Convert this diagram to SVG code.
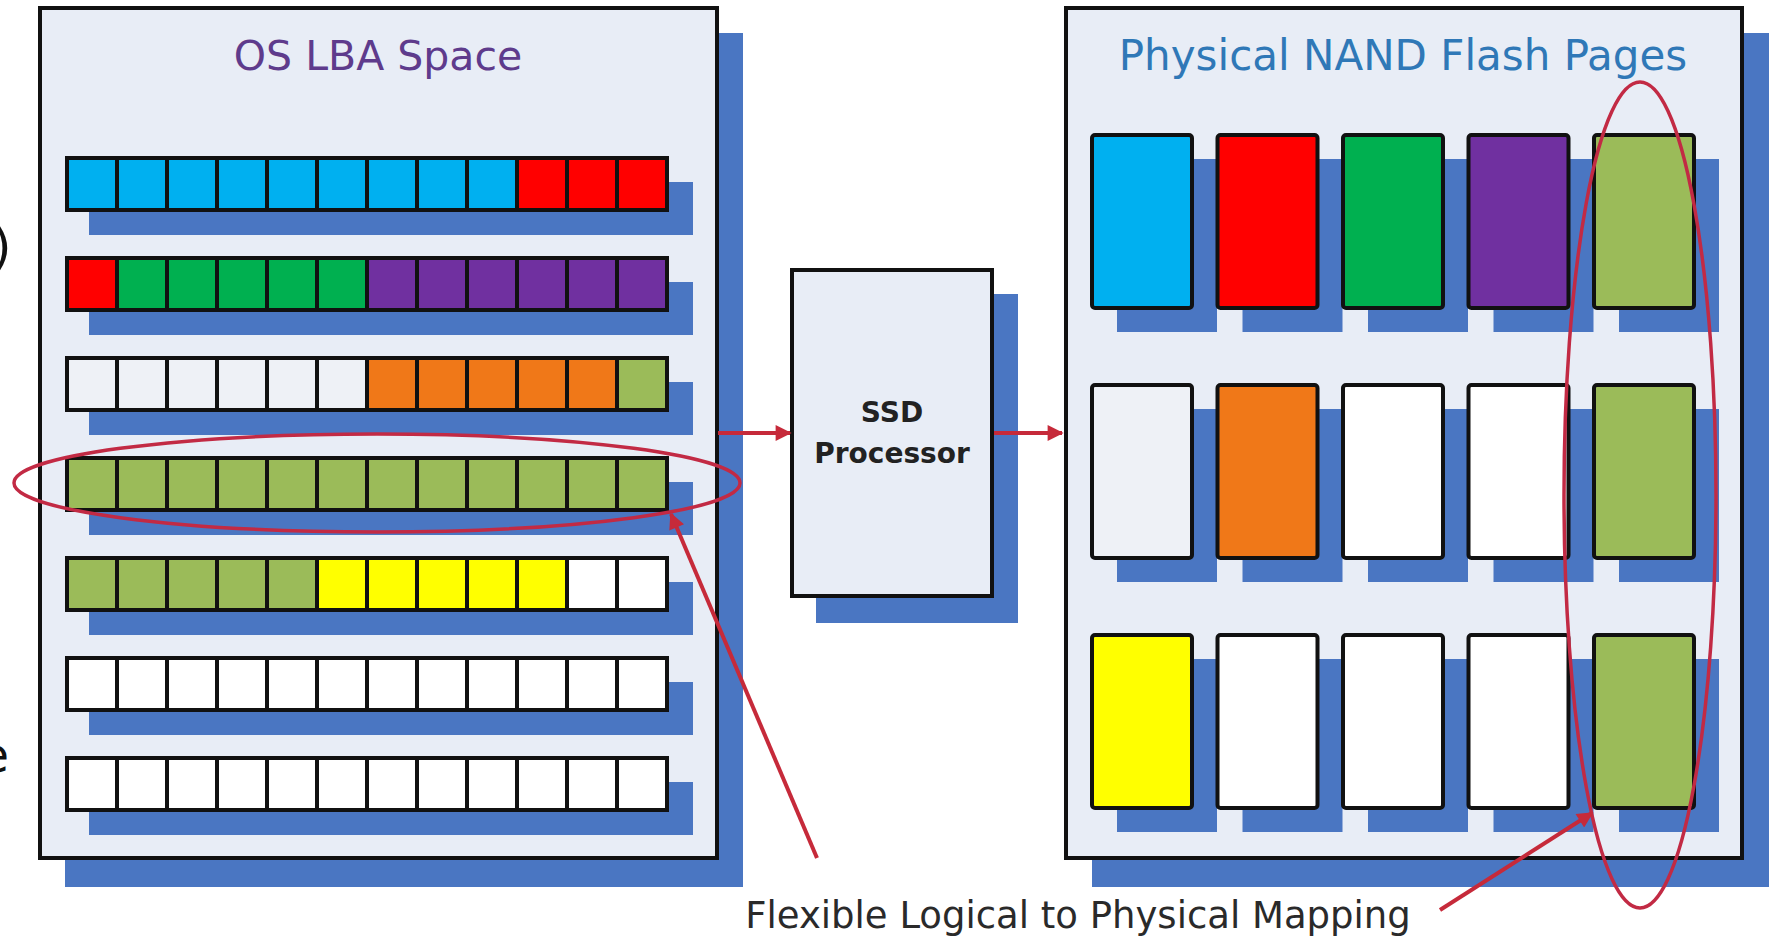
<svg xmlns="http://www.w3.org/2000/svg" width="1783" height="945" viewBox="0 0 1783 945">
<defs>
<style>
.bg{fill:#ffffff}
.panel{fill:#e8edf6;stroke:#111;stroke-width:4}
.shadow{fill:#4a76c2}
.cell{stroke:#111;stroke-width:4}
.blk{stroke:#111;stroke-width:4}
.ring{fill:none;stroke:#c22a44;stroke-width:3.5}
.conn{fill:none;stroke:#c62a3a;stroke-width:4}
.cy{fill:#00b0f0}.rd{fill:#ff0000}.gn{fill:#00b050}.pu{fill:#7030a0}
.or{fill:#f07818}.ol{fill:#9bbb59}.ye{fill:#ffff00}.wh{fill:#ffffff}.lt{fill:#eef1f6}
.title{font-family:"DejaVu Sans",sans-serif;text-anchor:middle}
.lbl{font-family:"DejaVu Sans",sans-serif;text-anchor:middle;fill:#2a2a2a}
.proc{font-family:"DejaVu Sans",sans-serif;font-weight:bold;text-anchor:middle;fill:#222;font-size:28px}
</style>
<marker id="ah" viewBox="0 0 10 10" refX="9" refY="5" markerWidth="18" markerHeight="16" markerUnits="userSpaceOnUse" orient="auto">
<path d="M0,0 L10,5 L0,10 Z" fill="#c62a3a"/>
</marker>
</defs>
<rect class="bg" x="0" y="0" width="1783" height="945"/>

<g id="edge-fragments" font-family="DejaVu Sans, sans-serif" fill="#111">
<text x="-8" y="264" font-size="50">)</text>
<text x="9" y="772" font-size="48" text-anchor="end">e</text>
</g>

<g id="os-lba-space">
<rect class="shadow" x="65" y="33" width="678" height="854"/>
<rect class="panel" x="40" y="8" width="677" height="850"/>
<text class="title" x="378" y="70" font-size="41" fill="#5e3b8c">OS LBA Space</text>

<g id="lba-row1" transform="translate(67,158)">
<rect class="shadow" x="22" y="24" width="604" height="53"/>
<rect class="cell cy" x="0" y="0" width="50" height="52"/><rect class="cell cy" x="50" y="0" width="50" height="52"/><rect class="cell cy" x="100" y="0" width="50" height="52"/><rect class="cell cy" x="150" y="0" width="50" height="52"/><rect class="cell cy" x="200" y="0" width="50" height="52"/><rect class="cell cy" x="250" y="0" width="50" height="52"/><rect class="cell cy" x="300" y="0" width="50" height="52"/><rect class="cell cy" x="350" y="0" width="50" height="52"/><rect class="cell cy" x="400" y="0" width="50" height="52"/><rect class="cell rd" x="450" y="0" width="50" height="52"/><rect class="cell rd" x="500" y="0" width="50" height="52"/><rect class="cell rd" x="550" y="0" width="50" height="52"/>
</g>
<g id="lba-row2" transform="translate(67,258)">
<rect class="shadow" x="22" y="24" width="604" height="53"/>
<rect class="cell rd" x="0" y="0" width="50" height="52"/><rect class="cell gn" x="50" y="0" width="50" height="52"/><rect class="cell gn" x="100" y="0" width="50" height="52"/><rect class="cell gn" x="150" y="0" width="50" height="52"/><rect class="cell gn" x="200" y="0" width="50" height="52"/><rect class="cell gn" x="250" y="0" width="50" height="52"/><rect class="cell pu" x="300" y="0" width="50" height="52"/><rect class="cell pu" x="350" y="0" width="50" height="52"/><rect class="cell pu" x="400" y="0" width="50" height="52"/><rect class="cell pu" x="450" y="0" width="50" height="52"/><rect class="cell pu" x="500" y="0" width="50" height="52"/><rect class="cell pu" x="550" y="0" width="50" height="52"/>
</g>
<g id="lba-row3" transform="translate(67,358)">
<rect class="shadow" x="22" y="24" width="604" height="53"/>
<rect class="cell lt" x="0" y="0" width="50" height="52"/><rect class="cell lt" x="50" y="0" width="50" height="52"/><rect class="cell lt" x="100" y="0" width="50" height="52"/><rect class="cell lt" x="150" y="0" width="50" height="52"/><rect class="cell lt" x="200" y="0" width="50" height="52"/><rect class="cell lt" x="250" y="0" width="50" height="52"/><rect class="cell or" x="300" y="0" width="50" height="52"/><rect class="cell or" x="350" y="0" width="50" height="52"/><rect class="cell or" x="400" y="0" width="50" height="52"/><rect class="cell or" x="450" y="0" width="50" height="52"/><rect class="cell or" x="500" y="0" width="50" height="52"/><rect class="cell ol" x="550" y="0" width="50" height="52"/>
</g>
<g id="lba-row4" transform="translate(67,458)">
<rect class="shadow" x="22" y="24" width="604" height="53"/>
<rect class="cell ol" x="0" y="0" width="50" height="52"/><rect class="cell ol" x="50" y="0" width="50" height="52"/><rect class="cell ol" x="100" y="0" width="50" height="52"/><rect class="cell ol" x="150" y="0" width="50" height="52"/><rect class="cell ol" x="200" y="0" width="50" height="52"/><rect class="cell ol" x="250" y="0" width="50" height="52"/><rect class="cell ol" x="300" y="0" width="50" height="52"/><rect class="cell ol" x="350" y="0" width="50" height="52"/><rect class="cell ol" x="400" y="0" width="50" height="52"/><rect class="cell ol" x="450" y="0" width="50" height="52"/><rect class="cell ol" x="500" y="0" width="50" height="52"/><rect class="cell ol" x="550" y="0" width="50" height="52"/>
</g>
<g id="lba-row5" transform="translate(67,558)">
<rect class="shadow" x="22" y="24" width="604" height="53"/>
<rect class="cell ol" x="0" y="0" width="50" height="52"/><rect class="cell ol" x="50" y="0" width="50" height="52"/><rect class="cell ol" x="100" y="0" width="50" height="52"/><rect class="cell ol" x="150" y="0" width="50" height="52"/><rect class="cell ol" x="200" y="0" width="50" height="52"/><rect class="cell ye" x="250" y="0" width="50" height="52"/><rect class="cell ye" x="300" y="0" width="50" height="52"/><rect class="cell ye" x="350" y="0" width="50" height="52"/><rect class="cell ye" x="400" y="0" width="50" height="52"/><rect class="cell ye" x="450" y="0" width="50" height="52"/><rect class="cell wh" x="500" y="0" width="50" height="52"/><rect class="cell wh" x="550" y="0" width="50" height="52"/>
</g>
<g id="lba-row6" transform="translate(67,658)">
<rect class="shadow" x="22" y="24" width="604" height="53"/>
<rect class="cell wh" x="0" y="0" width="50" height="52"/><rect class="cell wh" x="50" y="0" width="50" height="52"/><rect class="cell wh" x="100" y="0" width="50" height="52"/><rect class="cell wh" x="150" y="0" width="50" height="52"/><rect class="cell wh" x="200" y="0" width="50" height="52"/><rect class="cell wh" x="250" y="0" width="50" height="52"/><rect class="cell wh" x="300" y="0" width="50" height="52"/><rect class="cell wh" x="350" y="0" width="50" height="52"/><rect class="cell wh" x="400" y="0" width="50" height="52"/><rect class="cell wh" x="450" y="0" width="50" height="52"/><rect class="cell wh" x="500" y="0" width="50" height="52"/><rect class="cell wh" x="550" y="0" width="50" height="52"/>
</g>
<g id="lba-row7" transform="translate(67,758)">
<rect class="shadow" x="22" y="24" width="604" height="53"/>
<rect class="cell wh" x="0" y="0" width="50" height="52"/><rect class="cell wh" x="50" y="0" width="50" height="52"/><rect class="cell wh" x="100" y="0" width="50" height="52"/><rect class="cell wh" x="150" y="0" width="50" height="52"/><rect class="cell wh" x="200" y="0" width="50" height="52"/><rect class="cell wh" x="250" y="0" width="50" height="52"/><rect class="cell wh" x="300" y="0" width="50" height="52"/><rect class="cell wh" x="350" y="0" width="50" height="52"/><rect class="cell wh" x="400" y="0" width="50" height="52"/><rect class="cell wh" x="450" y="0" width="50" height="52"/><rect class="cell wh" x="500" y="0" width="50" height="52"/><rect class="cell wh" x="550" y="0" width="50" height="52"/>
</g>
</g>

<g id="ssd-processor">
<rect class="shadow" x="816" y="294" width="202" height="329"/>
<rect class="panel" x="792" y="270" width="200" height="326"/>
<text class="proc" x="892" y="422">SSD</text>
<text class="proc" x="892" y="463">Processor</text>
</g>

<g id="nand-pages">
<rect class="shadow" x="1092" y="33" width="677" height="854"/>
<rect class="panel" x="1066" y="8" width="676" height="850"/>
<text class="title" x="1403" y="70" font-size="42" fill="#2f78b7">Physical NAND Flash Pages</text>
<g id="nand-shadows" class="shadow">
<rect x="1117" y="159" width="100" height="173"/><rect x="1242.5" y="159" width="100" height="173"/><rect x="1368" y="159" width="100" height="173"/><rect x="1493.5" y="159" width="100" height="173"/><rect x="1619" y="159" width="100" height="173"/>
<rect x="1117" y="409" width="100" height="173"/><rect x="1242.5" y="409" width="100" height="173"/><rect x="1368" y="409" width="100" height="173"/><rect x="1493.5" y="409" width="100" height="173"/><rect x="1619" y="409" width="100" height="173"/>
<rect x="1117" y="659" width="100" height="173"/><rect x="1242.5" y="659" width="100" height="173"/><rect x="1368" y="659" width="100" height="173"/><rect x="1493.5" y="659" width="100" height="173"/><rect x="1619" y="659" width="100" height="173"/>
</g>
<g id="nand-row1">
<rect class="blk cy" x="1092" y="135" width="100" height="173" rx="3"/><rect class="blk rd" x="1217.5" y="135" width="100" height="173" rx="3"/><rect class="blk gn" x="1343" y="135" width="100" height="173" rx="3"/><rect class="blk pu" x="1468.5" y="135" width="100" height="173" rx="3"/><rect class="blk ol" x="1594" y="135" width="100" height="173" rx="3"/>
</g>
<g id="nand-row2">
<rect class="blk lt" x="1092" y="385" width="100" height="173" rx="3"/><rect class="blk or" x="1217.5" y="385" width="100" height="173" rx="3"/><rect class="blk wh" x="1343" y="385" width="100" height="173" rx="3"/><rect class="blk wh" x="1468.5" y="385" width="100" height="173" rx="3"/><rect class="blk ol" x="1594" y="385" width="100" height="173" rx="3"/>
</g>
<g id="nand-row3">
<rect class="blk ye" x="1092" y="635" width="100" height="173" rx="3"/><rect class="blk wh" x="1217.5" y="635" width="100" height="173" rx="3"/><rect class="blk wh" x="1343" y="635" width="100" height="173" rx="3"/><rect class="blk wh" x="1468.5" y="635" width="100" height="173" rx="3"/><rect class="blk ol" x="1594" y="635" width="100" height="173" rx="3"/>
</g>
</g>

<g id="highlights">
<ellipse class="ring" cx="377" cy="483" rx="363" ry="49"/>
<ellipse class="ring" cx="1640" cy="495" rx="76" ry="413"/>
</g>

<g id="connectors">
<line class="conn" x1="718" y1="433" x2="790" y2="433" marker-end="url(#ah)"/>
<line class="conn" x1="994" y1="433" x2="1062" y2="433" marker-end="url(#ah)"/>
<line class="conn" x1="817" y1="858" x2="671" y2="514" marker-end="url(#ah)"/>
<line class="conn" x1="1440" y1="910" x2="1592" y2="813" marker-end="url(#ah)"/>
</g>

<g id="mapping-label">
<text class="lbl" x="1078" y="928" font-size="37">Flexible Logical to Physical Mapping</text>
</g>
</svg>
